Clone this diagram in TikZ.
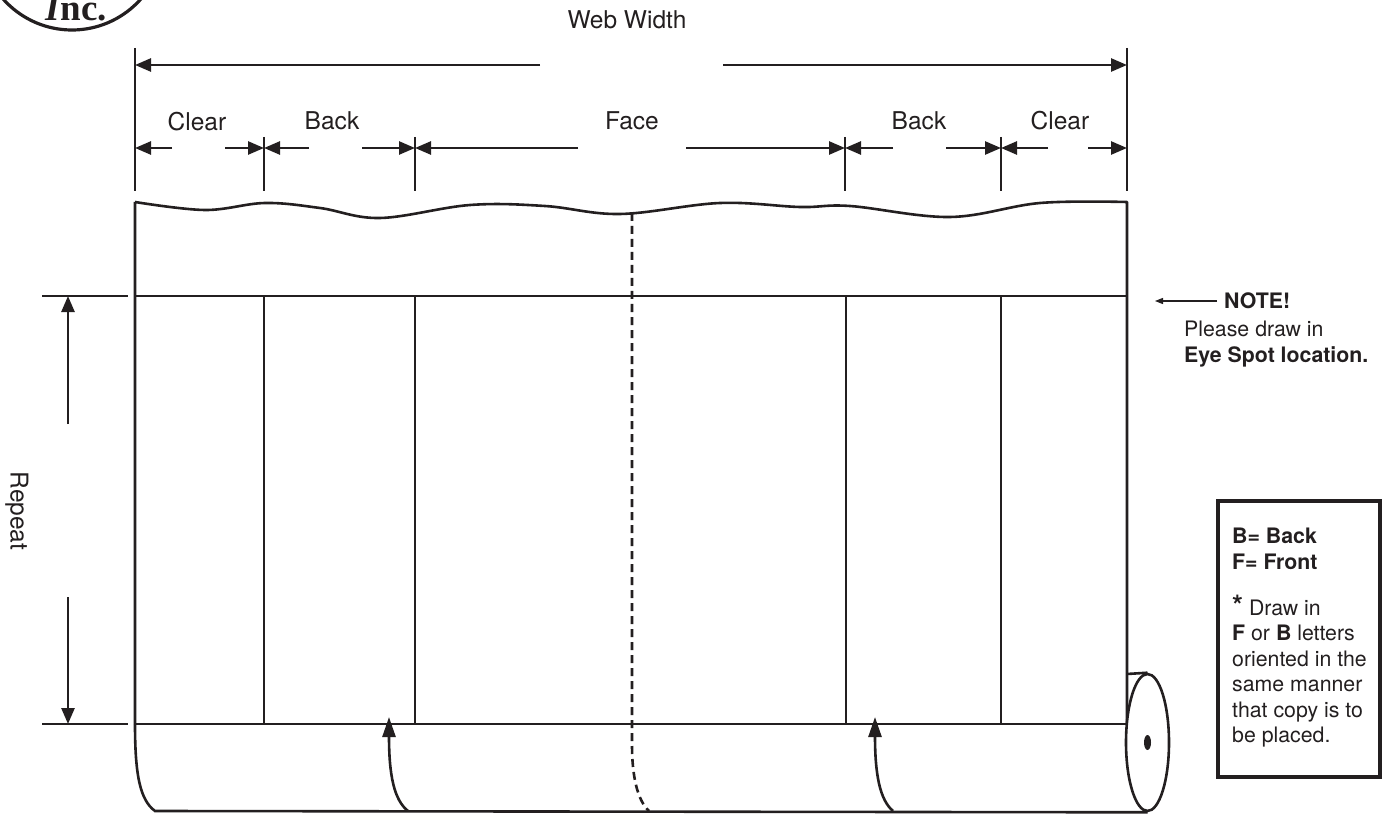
\documentclass[tikz,border=0pt]{standalone}
\usepackage{fontspec}
\setmainfont{TeX Gyre Heros}
\newfontfamily\logofont{Liberation Serif}
\usetikzlibrary{arrows.meta,positioning,shapes.geometric}
\definecolor{inkdark}{HTML}{231F20}
\begin{document}
\begin{tikzpicture}[
    x=1pt, y=-1pt,
    color=inkdark,
    every node/.style={text=inkdark, inner sep=0pt},
    sheet/.style={line width=2.6pt},
    dim/.style={line width=2.6pt, -{Triangle[length=16pt, width=13pt]}},
    rise/.style={line width=2.6pt, -{Triangle[length=20pt, width=13pt]}},
    dimtext/.style={font=\fontsize{24.5}{28}\selectfont},
    note/.style={font=\fontsize{21.3}{25.5}\selectfont, align=left, anchor=west}
]
\clip (0,0) rectangle (1389,818);
\useasboundingbox (0,0) rectangle (1389,818);

% logo
\node[font=\logofont\bfseries\fontsize{37}{37}\selectfont, anchor=base] (inc) at (76,21) {\textit{I}nc.};
\draw[line width=3.2pt] (72,-62) circle (92);

% columns
\coordinate (tl) at (135,296);  \coordinate (tr) at (1127,296);
\coordinate (bl) at (135,724);  \coordinate (br) at (1127,724);
\coordinate (c1t) at (264,296); \coordinate (c1b) at (264,724);
\coordinate (c2t) at (415,296); \coordinate (c2b) at (415,724);
\coordinate (c3t) at (846,296); \coordinate (c3b) at (846,724);
\coordinate (c4t) at (1001,296);\coordinate (c4b) at (1001,724);

% dimension ticks
\coordinate (w0) at (135,48);   \coordinate (w0b) at (135,191);
\coordinate (w5) at (1127,48);  \coordinate (w5b) at (1127,191);
\coordinate (w1) at (264,137);  \coordinate (w1b) at (264,191);
\coordinate (w2) at (415,137);  \coordinate (w2b) at (415,191);
\coordinate (w3) at (845,137);  \coordinate (w3b) at (845,191);
\coordinate (w4) at (1001,137); \coordinate (w4b) at (1001,191);
\draw[sheet] (w0) -- (w0b);
\draw[sheet] (w5) -- (w5b);
\draw[sheet] (w1) -- (w1b);
\draw[sheet] (w2) -- (w2b);
\draw[sheet] (w3) -- (w3b);
\draw[sheet] (w4) -- (w4b);

% web width
\node[dimtext] (web) at (627,20) {Web Width};
\coordinate (webl) at (540,65);  \coordinate (webr) at (723,65);
\draw[dim] (webl) -- (135,65);
\draw[dim] (webr) -- (1127,65);

% clear, back, face
\node[dimtext] (clearl) at (197,122) {Clear};
\node[dimtext] (backl) at (332,121) {Back};
\node[dimtext] (face) at (632,121) {Face};
\node[dimtext] (backr) at (919,121) {Back};
\node[dimtext] (clearr) at (1060,121) {Clear};
\draw[dim] (172,148) -- (135,148);
\draw[dim] (225,148) -- (264,148);
\draw[dim] (309,148) -- (264,148);
\draw[dim] (362,148) -- (415,148);
\draw[dim] (578,148) -- (415,148);
\draw[dim] (686,148) -- (845,148);
\draw[dim] (893,148) -- (845,148);
\draw[dim] (946,148) -- (1001,148);
\draw[dim] (1048,148) -- (1001,148);
\draw[dim] (1088,148) -- (1127,148);

% web sheet
\draw[sheet, line join=round] (bl) -- (135,202)
    plot[smooth, tension=0.6] coordinates {(135,202) (205,210) (265,203) (320,208) (380,218) (470,205) (545,206) (620,214) (720,203) (800,207) (850,206) (950,217) (1040,203) (1127,202)}
    -- (br);
\draw[sheet] (tl) -- (tr);
\draw[sheet] (bl) -- (br);
\draw[sheet] (c1t) -- (c1b);
\draw[sheet] (c2t) -- (c2b);
\draw[sheet] (c3t) -- (c3b);
\draw[sheet] (c4t) -- (c4b);

% centre fold
\draw[sheet, dash pattern=on 8pt off 5pt] (632,213) -- (632,745) .. controls (632,775) and (637,800) .. (649,811);

% repeat
\node[dimtext, rotate=-90] (repeat) at (17,511) {Repeat};
\draw[line width=1.8pt] (42,296) -- (128,296);
\draw[line width=1.8pt] (42,724) -- (128,724);
\draw[dim] (68,424) -- (68,296);
\draw[dim] (68,597) -- (68,724);

% roll
\node[draw, sheet, fill=white, ellipse, minimum width=43pt, minimum height=137pt] (roll) at (1147.5,742.5) {};
\fill (roll.center) ellipse (3.5 and 7.5);
\draw[sheet] (bl) .. controls (135,775) and (140,800) .. (155,811) -- (roll.south);
\draw[sheet] (1127,674) -- (roll.north);
\draw[rise] (408,811) .. controls (394,800) and (389,775) .. (389,717);
\draw[rise] (893,811) .. controls (880,800) and (875,775) .. (875,717);

% note
\node[font=\bfseries\fontsize{21.3}{25}\selectfont, anchor=west] (noteh) at (1224,301) {NOTE!};
\coordinate (notep) at (1155,301);
\draw[line width=1.2pt, -{Triangle[length=8pt, width=6pt]}] (1217,301) -- (notep);
\node[note] (notet) at (1184,344) {Please draw in\\ \textbf{Eye Spot location.}};

% key box
\node[draw, line width=4.5pt, minimum width=162pt, minimum height=276pt] (key) at (1299,639) {};
\node[note] (keya) at (1232,549) {\textbf{B= Back}\\ \textbf{F= Front}};
\node[note] (keyb) at (1232,671) {{\fontsize{28}{25.5}\selectfont\textbf{*}} Draw in\\ \textbf{F} or \textbf{B} letters\\ oriented in the\\ same manner\\ that copy is to\\ be placed.};
\end{tikzpicture}
\end{document}
